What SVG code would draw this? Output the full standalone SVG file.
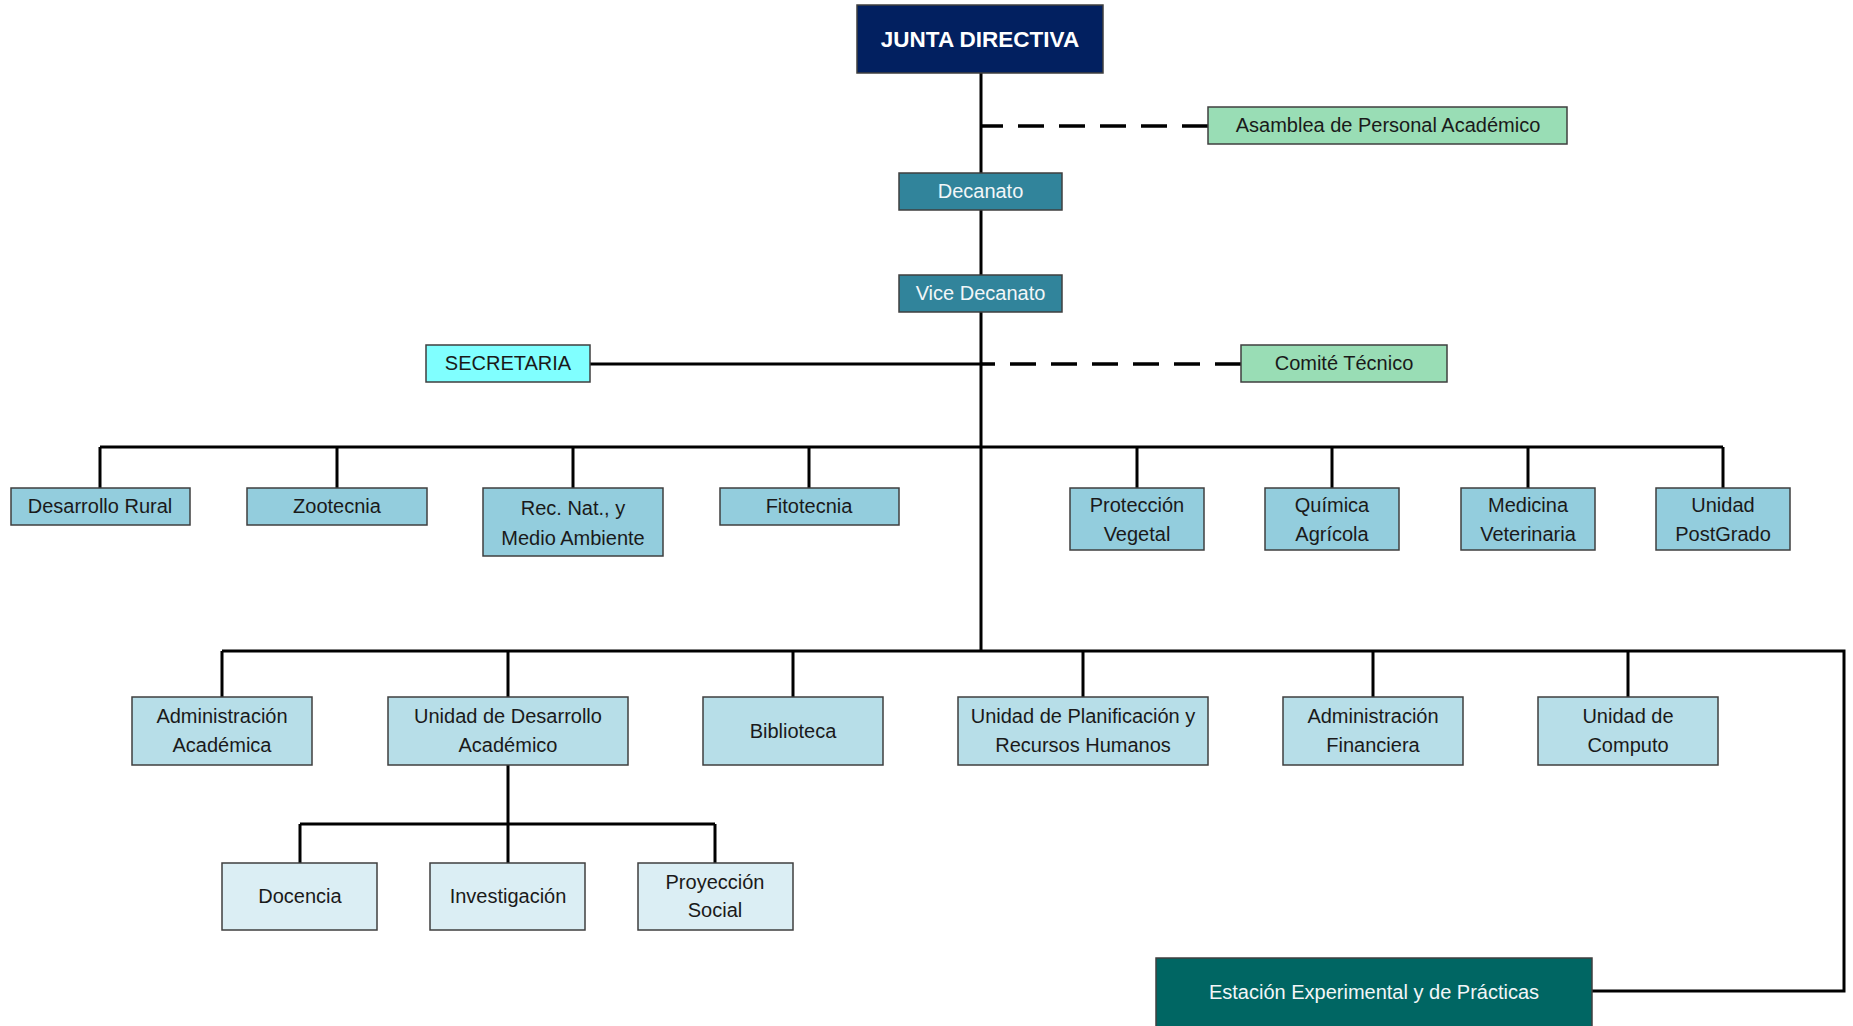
<svg xmlns="http://www.w3.org/2000/svg" width="1853" height="1026" viewBox="0 0 1853 1026">
  <style>
    text { font-family: "Liberation Sans", Arial, sans-serif; font-size: 20px; text-anchor: middle; fill: #1a1a1a; }
    .box { stroke: #3f3f3f; stroke-width: 1.5; }
    .light text, text.light { fill: #f2f6f8; }
    .junta { fill: #022060; }
    .green { fill: #99ddb5; }
    .teal { fill: #31849b; }
    .cyan { fill: #80ffff; }
    .dept { fill: #93cddd; }
    .unit { fill: #b7dee8; }
    .sub { fill: #dbeef4; }
    .station { fill: #006663; }
    .wire { fill: none; stroke: #000; stroke-width: 3; stroke-linejoin: miter; }
    .dash { fill: none; stroke: #000; stroke-width: 3.5; stroke-dasharray: 26 15; }
  </style>

  <!-- connectors -->
  <g id="connectors">
    <!-- main trunk -->
    <line class="wire" x1="981" y1="73" x2="981" y2="652"/>
    <!-- advisory links -->
    <line class="dash" x1="1208" y1="126" x2="981" y2="126"/>
    <line class="dash" x1="1241" y1="364" x2="981" y2="364"/>
    <line class="wire" x1="590" y1="364" x2="981" y2="364"/>
    <!-- departments bus -->
    <line class="wire" x1="100" y1="447" x2="1723" y2="447"/>
    <path class="wire" d="M100 447 V488 M337 447 V488 M573 447 V488 M809 447 V488 M1137 447 V488 M1332 447 V488 M1528 447 V488 M1723 447 V488"/>
    <!-- administrative units bus, continuing to the station -->
    <path class="wire" d="M222 651 H1844 V991 H1592"/>
    <path class="wire" d="M222 651 V697 M508 651 V697 M793 651 V697 M1083 651 V697 M1373 651 V697 M1628 651 V697"/>
    <!-- academic development sub-units -->
    <path class="wire" d="M508 765 V863 M300 824 H715 M300 824 V863 M715 824 V863"/>
  </g>

  <g id="junta-directiva">
    <rect class="box junta" x="857" y="5" width="246" height="68"/>
    <text x="980" y="47" style="font-weight:bold;font-size:22.5px;fill:#fff">JUNTA DIRECTIVA</text>
  </g>

  <g id="asamblea">
    <rect class="box green" x="1208" y="107" width="359" height="37"/>
    <text x="1388" y="132">Asamblea de Personal Académico</text>
  </g>

  <g id="decanato">
    <rect class="box teal" x="899" y="173" width="163" height="37"/>
    <text class="light" x="980.5" y="198">Decanato</text>
  </g>

  <g id="vice-decanato">
    <rect class="box teal" x="899" y="275" width="163" height="37"/>
    <text class="light" x="980.5" y="300">Vice Decanato</text>
  </g>

  <g id="secretaria">
    <rect class="box cyan" x="426" y="345" width="164" height="37"/>
    <text x="508" y="370">SECRETARIA</text>
  </g>

  <g id="comite-tecnico">
    <rect class="box green" x="1241" y="345" width="206" height="37"/>
    <text x="1344" y="370">Comité Técnico</text>
  </g>

  <!-- departments -->
  <g id="desarrollo-rural">
    <rect class="box dept" x="11" y="488" width="179" height="37"/>
    <text x="100" y="513">Desarrollo Rural</text>
  </g>
  <g id="zootecnia">
    <rect class="box dept" x="247" y="488" width="180" height="37"/>
    <text x="337" y="513">Zootecnia</text>
  </g>
  <g id="rec-nat">
    <rect class="box dept" x="483" y="488" width="180" height="68"/>
    <text x="573" y="515">Rec. Nat., y</text>
    <text x="573" y="545">Medio Ambiente</text>
  </g>
  <g id="fitotecnia">
    <rect class="box dept" x="720" y="488" width="179" height="37"/>
    <text x="809" y="513">Fitotecnia</text>
  </g>
  <g id="proteccion-vegetal">
    <rect class="box dept" x="1070" y="488" width="134" height="62"/>
    <text x="1137" y="512">Protección</text>
    <text x="1137" y="541">Vegetal</text>
  </g>
  <g id="quimica-agricola">
    <rect class="box dept" x="1265" y="488" width="134" height="62"/>
    <text x="1332" y="512">Química</text>
    <text x="1332" y="541">Agrícola</text>
  </g>
  <g id="medicina-veterinaria">
    <rect class="box dept" x="1461" y="488" width="134" height="62"/>
    <text x="1528" y="512">Medicina</text>
    <text x="1528" y="541">Veterinaria</text>
  </g>
  <g id="unidad-postgrado">
    <rect class="box dept" x="1656" y="488" width="134" height="62"/>
    <text x="1723" y="512">Unidad</text>
    <text x="1723" y="541">PostGrado</text>
  </g>

  <!-- administrative units -->
  <g id="administracion-academica">
    <rect class="box unit" x="132" y="697" width="180" height="68"/>
    <text x="222" y="723">Administración</text>
    <text x="222" y="752">Académica</text>
  </g>
  <g id="unidad-desarrollo-academico">
    <rect class="box unit" x="388" y="697" width="240" height="68"/>
    <text x="508" y="723">Unidad de Desarrollo</text>
    <text x="508" y="752">Académico</text>
  </g>
  <g id="biblioteca">
    <rect class="box unit" x="703" y="697" width="180" height="68"/>
    <text x="793" y="738">Biblioteca</text>
  </g>
  <g id="planificacion-rrhh">
    <rect class="box unit" x="958" y="697" width="250" height="68"/>
    <text x="1083" y="723">Unidad de Planificación y</text>
    <text x="1083" y="752">Recursos Humanos</text>
  </g>
  <g id="administracion-financiera">
    <rect class="box unit" x="1283" y="697" width="180" height="68"/>
    <text x="1373" y="723">Administración</text>
    <text x="1373" y="752">Financiera</text>
  </g>
  <g id="unidad-computo">
    <rect class="box unit" x="1538" y="697" width="180" height="68"/>
    <text x="1628" y="723">Unidad de</text>
    <text x="1628" y="752">Computo</text>
  </g>

  <!-- sub-units -->
  <g id="docencia">
    <rect class="box sub" x="222" y="863" width="155" height="67"/>
    <text x="300" y="903">Docencia</text>
  </g>
  <g id="investigacion">
    <rect class="box sub" x="430" y="863" width="155" height="67"/>
    <text x="508" y="903">Investigación</text>
  </g>
  <g id="proyeccion-social">
    <rect class="box sub" x="638" y="863" width="155" height="67"/>
    <text x="715" y="889">Proyección</text>
    <text x="715" y="917">Social</text>
  </g>

  <g id="estacion-experimental">
    <rect class="box station" x="1156" y="958" width="436" height="70"/>
    <text class="light" x="1374" y="999">Estación Experimental y de Prácticas</text>
  </g>
</svg>
